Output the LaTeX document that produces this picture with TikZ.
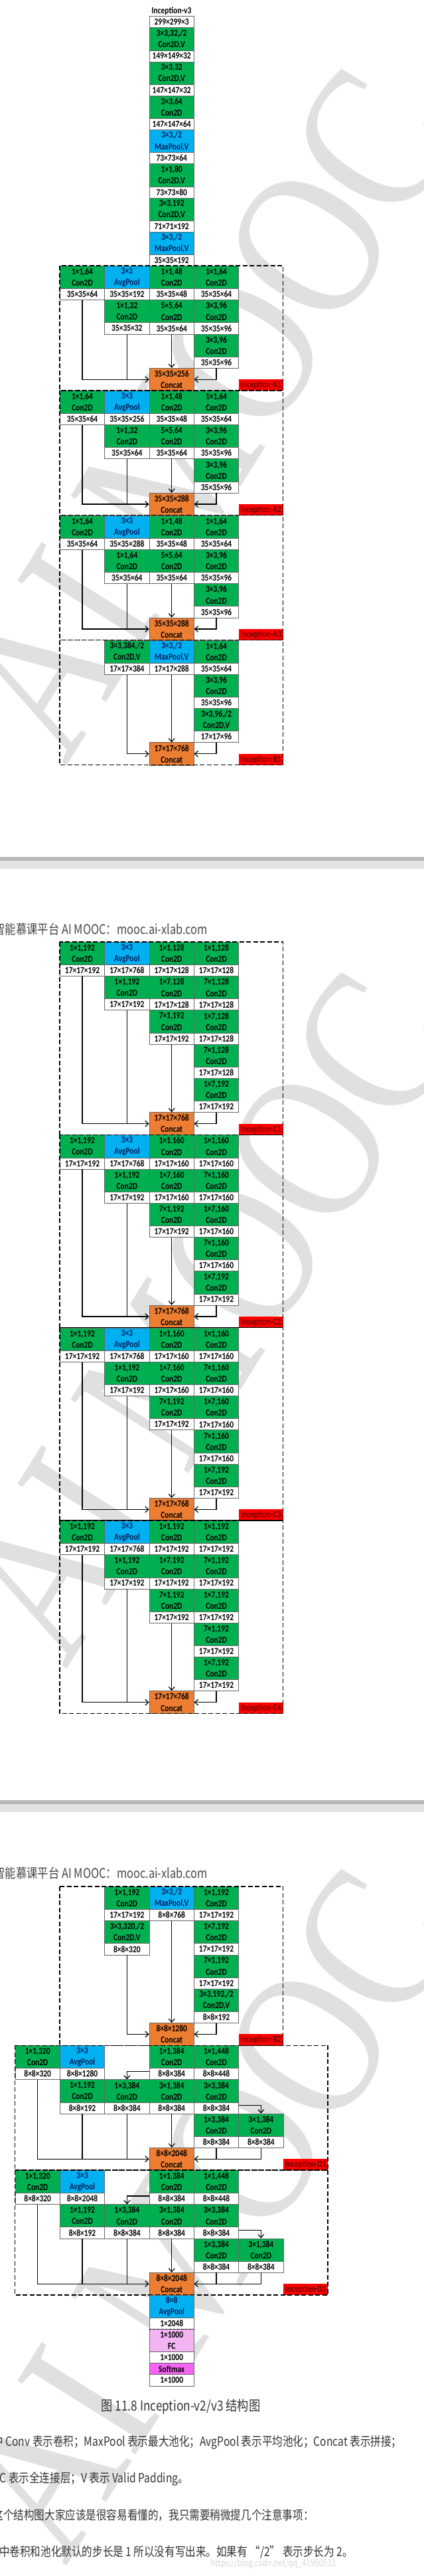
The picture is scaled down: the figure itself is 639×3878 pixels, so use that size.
\documentclass[tikz,border=0pt]{standalone}
\usepackage{fontspec}
\setmainfont{Carlito}[FakeStretch=0.82, BoldFeatures={FakeStretch=0.82}]
\newfontfamily\cjk{Noto Sans CJK SC}[FakeStretch=0.82]
\newfontfamily\wmfont{Liberation Serif}[FakeStretch=0.82]
\usetikzlibrary{arrows.meta}

\definecolor{convgreen}{RGB}{0,176,80}
\definecolor{poolblue}{RGB}{0,176,240}
\definecolor{poolink}{RGB}{0,32,96}
\definecolor{catorange}{RGB}{237,125,49}
\definecolor{tagred}{RGB}{255,0,0}
\definecolor{tagink}{RGB}{100,0,0}
\definecolor{fcpink}{RGB}{242,180,242}
\definecolor{smpink}{RGB}{245,100,245}

\tikzset{
  box/.style={draw=black!60, line width=0.7pt, anchor=north west, inner sep=0pt,
    minimum width=67.33pt, align=center, font=\fontsize{14}{17.08}\selectfont\bfseries},
  convbox/.style={box, fill=convgreen, minimum height=34.16pt},
  poolbox/.style={box, fill=poolblue, text=poolink, minimum height=34.16pt},
  dimbox/.style={box, fill=white, minimum height=17.08pt},
  catbox/.style={box, fill=catorange, minimum height=34.16pt},
  fcbox/.style={box, fill=fcpink, minimum height=34.16pt},
  smbox/.style={box, fill=smpink, minimum height=17.08pt},
  tagbox/.style={box, draw=none, fill=tagred, text=tagink, minimum height=17.08pt},
  frame/.style={draw=black, line width=1.3pt, dash pattern=on 7pt off 3.5pt},
  link/.style={draw=black, line width=1.2pt},
  flow/.style={link, -{Straight Barb[length=5pt,width=9pt]}},
  grid/.style={x=67.33pt, y=-17.08pt},
  head/.style={anchor=west, inner sep=0pt, text=black!72, font=\cjk\fontsize{20}{20}\selectfont},
  para/.style={anchor=west, inner sep=0pt, text=black!80, font=\cjk\fontsize{19}{20}\selectfont},
  wmark/.style={inner sep=0pt, text=black!12, font=\wmfont\fontsize{320}{320}\selectfont}
}

\begin{document}
\begin{tikzpicture}[x=1pt,y=-1pt]
  \useasboundingbox (0,0) rectangle (639,3878);
  \clip (0,0) rectangle (639,3878);
  \fill[white] (0,0) rectangle (639,3878);

  % watermark
  \foreach \y in {620,1980,3330}
    \node[wmark, rotate=58] (wm\y) at (310,\y) {AI MOOC};

  % page breaks
  \foreach \y in {1290,2710} {
    \fill[black!28] (0,\y) rectangle (639,\y+6);
    \fill[black!11] (0,\y+6) rectangle (639,\y+18.3);
  }

  % stem
  \node[font=\fontsize{14}{17}\selectfont\bfseries] (title) at (258.5,16.7) {Inception-v3};
  \begin{scope}[shift={(22.7,24.3)}, grid]
    \node[dimbox] (S-0-d) at (3,0) {299×299×3};
    \foreach \row/\kind/\op/\sz in {
      1/convbox/{3×3,32,/2\\Con2D,V}/{149×149×32},
      4/convbox/{3×3,32\\Con2D,V}/{147×147×32},
      7/convbox/{3×3,64\\Con2D}/{147×147×64},
      10/poolbox/{3×3,/2\\MaxPool,V}/{73×73×64},
      13/convbox/{1×1,80\\Con2D,V}/{73×73×80},
      16/convbox/{3×3,192\\Con2D,V}/{71×71×192},
      19/poolbox/{3×3,/2\\MaxPool,V}/{35×35×192}%
    } {
      \node[\kind] (S-\row) at (3,\row) {\op};
      \node[dimbox] (S-\row-d) at (3,\row+2) {\sz};
    }
  \end{scope}

  % inception A
  \foreach \b/\Y/\pin/\pw/\pout/\cat in {
    A1/400.06/192/32/32/256,
    A2/587.94/256/32/64/288,
    A3/775.82/288/64/64/288%
  } {
    \begin{scope}[shift={(22.7,\Y)}, grid]
      \foreach \col/\row/\kind/\op/\sz in {
        1/0/convbox/{1×1,64\\Con2D}/{35×35×64},
        2/0/poolbox/{3×3\\AvgPool}/{35×35×\pin},
        3/0/convbox/{1×1,48\\Con2D}/{35×35×48},
        4/0/convbox/{1×1,64\\Con2D}/{35×35×64},
        2/3/convbox/{1×1,\pw\\Con2D}/{35×35×\pout},
        3/3/convbox/{5×5,64\\Con2D}/{35×35×64},
        4/3/convbox/{3×3,96\\Con2D}/{35×35×96},
        4/6/convbox/{3×3,96\\Con2D}/{35×35×96}%
      } {
        \node[\kind] (\b-\col-\row) at (\col,\row) {\op};
        \node[dimbox] (\b-\col-\row-d) at (\col,\row+2) {\sz};
      }
      \node[catbox] (\b-cat) at (3,9) {35×35×\cat\\Concat};
      \node[tagbox] (\b-tag) at (5,10) {Inception-\b};
      \draw[flow] (\b-1-0-d.south) |- (\b-cat.west);
      \draw[link] (\b-2-3-d.south) -- (\b-2-3-d.south |- \b-cat.west);
      \draw[flow] (\b-3-3-d.south) -- (\b-cat.north);
      \draw[flow] (\b-4-6-d.south) |- (\b-cat.east);
      \draw[frame] (1,0) rectangle (6,11);
    \end{scope}
  }

  % inception B1
  \begin{scope}[shift={(22.7,963.70)}, grid]
    \foreach \col/\row/\kind/\op/\sz in {
      2/0/convbox/{3×3,384,/2\\Con2D,V}/{17×17×384},
      3/0/poolbox/{3×3,/2\\MaxPool,V}/{17×17×288},
      4/0/convbox/{1×1,64\\Con2D}/{35×35×64},
      4/3/convbox/{3×3,96\\Con2D}/{35×35×96},
      4/6/convbox/{3×3,96,/2\\Con2D,V}/{17×17×96}%
    } {
      \node[\kind] (B1-\col-\row) at (\col,\row) {\op};
      \node[dimbox] (B1-\col-\row-d) at (\col,\row+2) {\sz};
    }
    \node[catbox] (B1-cat) at (3,9) {17×17×768\\Concat};
    \node[tagbox] (B1-tag) at (5,10) {Inception-B1};
    \draw[flow] (B1-2-0-d.south) |- (B1-cat.west);
    \draw[flow] (B1-3-0-d.south) -- (B1-cat.north);
    \draw[flow] (B1-4-6-d.south) |- (B1-cat.east);
    \draw[frame] (1,0) rectangle (6,11);
  \end{scope}

  \node[head] (hd1) at (-9,1399.3) {智能慕课平台 AI MOOC：mooc.ai-xlab.com};

  % inception C
  \foreach \b/\Y/\n in {C1/1418/128, C2/1708.36/160, C3/1998.72/160, C4/2289.08/192} {
    \begin{scope}[shift={(22.7,\Y)}, grid]
      \foreach \col/\row/\kind/\op/\sz in {
        1/0/convbox/{1×1,192\\Con2D}/{17×17×192},
        2/0/poolbox/{3×3\\AvgPool}/{17×17×768},
        3/0/convbox/{1×1,\n\\Con2D}/{17×17×\n},
        4/0/convbox/{1×1,\n\\Con2D}/{17×17×\n},
        2/3/convbox/{1×1,192\\Con2D}/{17×17×192},
        3/3/convbox/{1×7,\n\\Con2D}/{17×17×\n},
        4/3/convbox/{7×1,\n\\Con2D}/{17×17×\n},
        3/6/convbox/{7×1,192\\Con2D}/{17×17×192},
        4/6/convbox/{1×7,\n\\Con2D}/{17×17×\n},
        4/9/convbox/{7×1,\n\\Con2D}/{17×17×\n},
        4/12/convbox/{1×7,192\\Con2D}/{17×17×192}%
      } {
        \node[\kind] (\b-\col-\row) at (\col,\row) {\op};
        \node[dimbox] (\b-\col-\row-d) at (\col,\row+2) {\sz};
      }
      \node[catbox] (\b-cat) at (3,15) {17×17×768\\Concat};
      \node[tagbox] (\b-tag) at (5,16) {Inception-\b};
      \draw[flow] (\b-1-0-d.south) |- (\b-cat.west);
      \draw[link] (\b-2-3-d.south) -- (\b-2-3-d.south |- \b-cat.west);
      \draw[flow] (\b-3-6-d.south) -- (\b-cat.north);
      \draw[flow] (\b-4-12-d.south) |- (\b-cat.east);
      \draw[frame] (1,0) rectangle (6,17);
    \end{scope}
  }

  \node[head] (hd2) at (-9,2820) {智能慕课平台 AI MOOC：mooc.ai-xlab.com};

  % inception B2
  \begin{scope}[shift={(22.7,2840)}, grid]
    \foreach \col/\row/\kind/\op/\sz in {
      2/0/convbox/{1×1,192\\Con2D}/{17×17×192},
      3/0/poolbox/{3×3,/2\\MaxPool,V}/{8×8×768},
      4/0/convbox/{1×1,192\\Con2D}/{17×17×192},
      2/3/convbox/{3×3,320,/2\\Con2D,V}/{8×8×320},
      4/3/convbox/{1×7,192\\Con2D}/{17×17×192},
      4/6/convbox/{7×1,192\\Con2D}/{17×17×192},
      4/9/convbox/{3×3,192,/2\\Con2D,V}/{8×8×192}%
    } {
      \node[\kind] (B2-\col-\row) at (\col,\row) {\op};
      \node[dimbox] (B2-\col-\row-d) at (\col,\row+2) {\sz};
    }
    \node[catbox] (B2-cat) at (3,12) {8×8×1280\\Concat};
    \node[tagbox] (B2-tag) at (5,13) {Inception-B2};
    \draw[flow] (B2-2-3-d.south) |- (B2-cat.west);
    \draw[flow] (B2-3-0-d.south) -- (B2-cat.north);
    \draw[flow] (B2-4-9-d.south) |- (B2-cat.east);
    \draw[frame] (1,0) rectangle (6,14);
  \end{scope}

  % inception D
  \foreach \b/\Y/\pin in {D1/3079.12/1280, D2/3267.0/2048} {
    \begin{scope}[shift={(22.7,\Y)}, grid]
      \foreach \col/\row/\kind/\op/\sz in {
        0/0/convbox/{1×1,320\\Con2D}/{8×8×320},
        1/0/poolbox/{3×3\\AvgPool}/{8×8×\pin},
        3/0/convbox/{1×1,384\\Con2D}/{8×8×384},
        4/0/convbox/{1×1,448\\Con2D}/{8×8×448},
        1/3/convbox/{1×1,192\\Con2D}/{8×8×192},
        2/3/convbox/{1×3,384\\Con2D}/{8×8×384},
        3/3/convbox/{3×1,384\\Con2D}/{8×8×384},
        4/3/convbox/{3×3,384\\Con2D}/{8×8×384},
        4/6/convbox/{1×3,384\\Con2D}/{8×8×384},
        5/6/convbox/{3×1,384\\Con2D}/{8×8×384}%
      } {
        \node[\kind] (\b-\col-\row) at (\col,\row) {\op};
        \node[dimbox] (\b-\col-\row-d) at (\col,\row+2) {\sz};
      }
      \node[catbox] (\b-cat) at (3,9) {8×8×2048\\Concat};
      \node[tagbox] (\b-tag) at (6,10) {Inception-\b};
      \draw[flow] ([yshift=4pt]\b-3-0-d.west) -| (\b-2-3.north);
      \draw[flow] ([yshift=4pt]\b-4-3-d.east) -| (\b-5-6.north);
      \draw[flow] (\b-0-0-d.south) |- (\b-cat.west);
      \draw[link] (\b-1-3-d.south) -- (\b-1-3-d.south |- \b-cat.west);
      \draw[link] (\b-2-3-d.south) -- (\b-2-3-d.south |- \b-cat.west);
      \draw[flow] (\b-3-3-d.south) -- (\b-cat.north);
      \draw[link] (\b-4-6-d.south) -- (\b-4-6-d.south |- \b-cat.east);
      \draw[flow] (\b-5-6-d.south) |- (\b-cat.east);
      \draw[frame] (0,0) rectangle (7,11);
    \end{scope}
  }

  % head
  \begin{scope}[shift={(22.7,3454.88)}, grid]
    \node[poolbox] (T-0) at (3,0) {8×8\\AvgPool};
    \node[dimbox] (T-2) at (3,2) {1×2048};
    \node[fcbox] (T-3) at (3,3) {1×1000\\FC};
    \node[dimbox] (T-5) at (3,5) {1×1000};
    \node[smbox] (T-6) at (3,6) {Softmax};
    \node[dimbox] (T-7) at (3,7) {1×1000};
    \draw[dashed, line width=0.9pt] (T-2.south west) -- (T-2.south east);
  \end{scope}

  % caption and text
  \node[inner sep=0pt, text=black!80, font=\cjk\fontsize{21}{21}\selectfont] (cap) at (272.5,3623) {图 11.8 Inception-v2/v3 结构图};
  \node[para] (p1) at (-10.7,3676.7) {中 Conv 表示卷积；MaxPool 表示最大池化；AvgPool 表示平均池化；Concat 表示拼接；};
  \node[para] (p2) at (-8.9,3731.7) {FC 表示全连接层；V 表示 Valid Padding。};
  \node[para] (p3) at (-10.6,3786.7) {这个结构图大家应该是很容易看懂的，我只需要稍微提几个注意事项：};
  \node[para] (p4) at (-1,3841.7) {中卷积和池化默认的步长是 1 所以没有写出来。如果有 “/2” 表示步长为 2。};
  \node[anchor=west, inner sep=0pt, text=black!16, font=\cjk\fontsize{14}{14}\selectfont] (url) at (317,3860) {https://blog.csdn.net/qq\_41950533};
\end{tikzpicture}
\end{document}
